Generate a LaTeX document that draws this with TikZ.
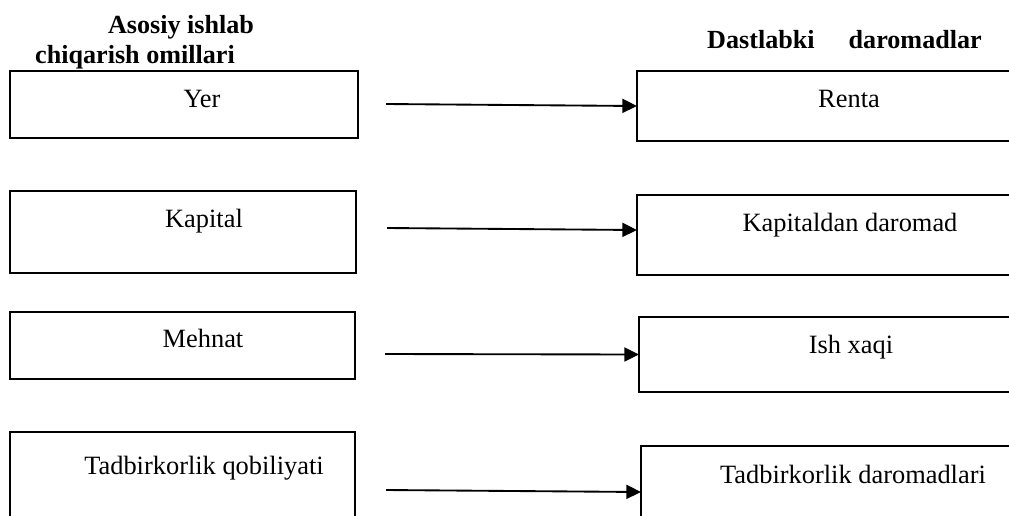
\documentclass[tikz,border=0pt]{standalone}
\usepackage{fontspec}
\setmainfont{Liberation Serif}
\usetikzlibrary{arrows.meta}

\tikzset{
  box/.style={draw, line width=0.9pt, inner sep=0pt, outer sep=0pt, anchor=north west},
  lbl/.style={anchor=base, inner sep=0.75pt, font=\fontsize{19.8}{23}\selectfont},
  hdr/.style={anchor=base, inner sep=0.75pt, font=\bfseries\fontsize{19.6}{23}\selectfont},
  arr/.style={-{Triangle[length=11pt,width=10.5pt]}, line width=1.4pt}
}

\begin{document}
\begin{tikzpicture}[x=0.75pt,y=0.75pt,yscale=-1,xscale=1]
\useasboundingbox (0,0) rectangle (1009,515);
\clip (0,0) rectangle (1009,515);

% Headers
\node (hdrA) [hdr] at (181,33) {Asosiy ishlab};
\node (hdrB) [hdr] at (135,63) {chiqarish omillari};
\node (hdrC) [hdr] at (844.5,48) {Dastlabki\hspace{25.5pt}daromadlar};

% Left boxes
\node (yer) [box, minimum width=261pt, minimum height=50.25pt] at (10,71) {};
\node (kap) [box, minimum width=259.5pt, minimum height=61.5pt] at (10,191) {};
\node (meh) [box, minimum width=258.75pt, minimum height=50.25pt] at (10,312) {};
\node (tad) [box, minimum width=258.75pt, minimum height=67.5pt] at (10,432) {};

% Right boxes
\node (renta) [box, minimum width=283.5pt, minimum height=52.5pt] at (637,71) {};
\node (kapd) [box, minimum width=283.5pt, minimum height=60pt] at (637,195) {};
\node (ish) [box, minimum width=282pt, minimum height=56.25pt] at (639,317) {};
\node (tadd) [box, minimum width=280.5pt, minimum height=55.5pt] at (641,446) {};

% Text Nodes
\node (tYer) [lbl] at (202,107) {Yer};
\node (tKap) [lbl] at (204,227) {Kapital};
\node (tMeh) [lbl] at (203,347) {Mehnat};
\node (tTad) [lbl] at (204,474) {Tadbirkorlik qobiliyati};
\node (tRen) [lbl] at (849,107) {Renta};
\node (tKapd) [lbl] at (850,231) {Kapitaldan daromad};
\node (tIsh) [lbl] at (851,353) {Ish xaqi};
\node (tTadd) [lbl] at (853,483) {Tadbirkorlik daromadlari};

% Arrows
\coordinate (s1) at (386,104);
\coordinate (s2) at (387,228);
\coordinate (s3) at (385,354);
\coordinate (s4) at (386,490);
\draw [arr] (s1) -- (renta.west);
\draw [arr] (s2) -- ([yshift=-3.75pt]kapd.west);
\draw [arr] (s3) -- (ish.west);
\draw [arr] (s4) -- ([yshift=6.75pt]tadd.west);

\end{tikzpicture}
\end{document}
